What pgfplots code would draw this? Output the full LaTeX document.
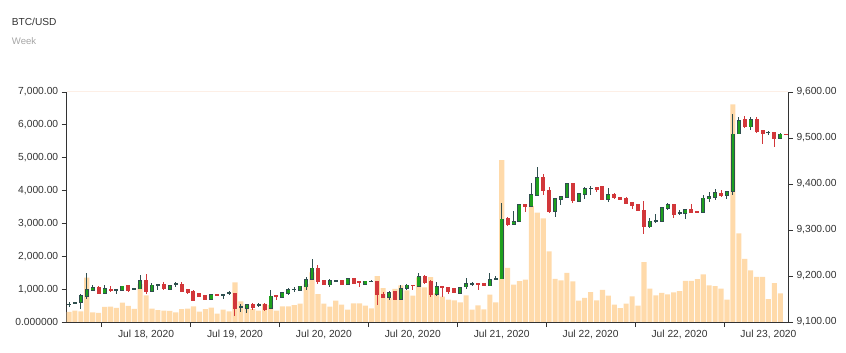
\documentclass[border=0pt]{standalone}
\usepackage{pgfplots}
\pgfplotsset{compat=1.18}
\usepackage{pgfplotstable}
\usepackage{fontspec}
\setmainfont{Liberation Sans}
\definecolor{volc}{HTML}{FFDAAA}
\definecolor{upc}{HTML}{1EA01E}
\definecolor{upo}{HTML}{2F4F4F}
\definecolor{dnc}{HTML}{D2373A}
\definecolor{axc}{HTML}{333333}
\definecolor{txt}{HTML}{333333}
\definecolor{toplc}{HTML}{FDEFE6}

\pgfplotstableread{
i O H L C
0 9138 9143 9133 9139
1 9141 9142.5 9140 9142
2 9142 9162 9129 9156.7
3 9156 9206.8 9150 9170.5
4 9169 9180 9167 9175
6 9163 9180.7 9161.8 9173
8 9170 9171.5 9161.8 9171
9 9169 9178.5 9168 9177.8
11 9172 9174 9171 9173
12 9172 9201.7 9171 9190
14 9167.6 9185.7 9164.7 9180
15 9180.2 9181 9170.5 9180.8
17 9172 9179 9171.5 9178.5
18 9181.5 9188 9176.3 9182.5
24 9149.4 9161.8 9147.2 9159.6
26 9159.6 9160.5 9150.9 9160
27 9163 9167.6 9158.9 9163.5
29 9132.5 9138.5 9121.8 9133
30 9129.8 9140 9119.6 9137.8
32 9137.5 9141 9133 9138
34 9130.5 9170.5 9129.8 9156
36 9153 9165 9152 9164
37 9163.2 9174 9158 9170.5
38 9171 9176.3 9166 9171.5
39 9169 9179 9168 9177.8
40 9176.3 9198 9169 9192.3
41 9192.3 9238 9191 9217
44 9180.7 9193.7 9175.6 9190.8
45 9189 9192.3 9186.5 9189.8
47 9181.4 9194 9181 9193.7
50 9182.8 9190 9182 9188.7
51 9188.2 9192.3 9186 9188.8
54 9153.8 9167.6 9147.2 9164
56 9150.1 9180.7 9149.4 9172.7
57 9172.7 9182.8 9170.5 9180
59 9177.8 9207.6 9177 9198.8
62 9160.3 9188 9156.7 9176.3
66 9163.2 9175.5 9162.5 9174.8
67 9176.3 9196.6 9172.7 9182.8
68 9183 9188 9178.5 9183.6
71 9178.5 9207.6 9178 9192.3
72 9193.3 9199.6 9190.8 9193.9
73 9193.7 9358 9193 9323.8
75 9312.9 9342 9312.5 9318.7
76 9318 9356.5 9317.5 9355.8
78 9352.2 9401.6 9351.5 9377.6
79 9376.1 9436.5 9375.5 9414.7
82 9340.5 9368.9 9327.5 9367.4
83 9366.7 9374 9354.3 9372.5
84 9371 9401 9370 9400.1
86 9363 9379 9362 9378.3
87 9378.3 9392.9 9367.4 9389.2
88 9390.3 9395.8 9376.1 9391
91 9366.7 9390.7 9361.6 9376.1
98 9307.1 9325.3 9303.5 9319.5
99 9320 9334 9314.4 9320.6
100 9319.5 9348.5 9319 9347.8
101 9346.3 9358 9343.4 9354.3
103 9337.3 9343.4 9333.3 9337.9
104 9336.2 9345.6 9323.1 9344.9
107 9339.1 9376.9 9338.4 9369.6
108 9368.2 9383.4 9361.6 9372.5
109 9371 9389.2 9365.2 9381.2
111 9376.1 9384 9366.7 9383.4
112 9384.9 9552 9376.1 9508.4
113 9509.1 9545.5 9508.5 9537.5
115 9524.4 9544.7 9516.4 9539.7
118 9512 9514.2 9506.2 9512.4
120 9499.7 9510.6 9497.5 9508.4
}\upt

\pgfplotstableread{
i O H L C
5 9174.8 9177.8 9161.8 9163
7 9171 9178 9164.7 9169
10 9178.5 9179 9164.7 9167.6
13 9190.8 9205.4 9160.3 9166
16 9182 9186.5 9169 9172
19 9182 9186.5 9165 9166
20 9170.5 9171 9161.8 9164.7
21 9166.9 9169 9145.8 9147.2
22 9161.8 9164 9154.5 9156
23 9158 9159 9147.2 9148.7
25 9160 9160.5 9158.5 9159
28 9161.8 9162.5 9113.8 9130.5
31 9138.5 9141.4 9125.4 9132.7
33 9139 9141.4 9124 9127.6
35 9156.5 9159.6 9147.2 9155
42 9215.5 9225 9183.6 9188.7
43 9190.8 9192 9180 9180.7
46 9190.8 9191.5 9181 9181.4
48 9193.7 9194 9184 9184.3
49 9187 9187.5 9176.3 9186
52 9188.7 9189.5 9136.3 9159.6
53 9159.6 9164.7 9152.3 9153.8
55 9165.4 9166 9149 9149.4
58 9180.4 9180.6 9170.5 9179.8
60 9198 9202.5 9183.6 9185.7
61 9187.2 9190.8 9154.5 9160.3
63 9176.5 9177 9154.5 9175.8
64 9174.8 9176.3 9161.8 9167.6
65 9171.9 9172.5 9163 9164
69 9183.6 9184 9170.5 9180.7
70 9182.8 9183.5 9179.5 9180
74 9325.3 9328.9 9309.3 9312.9
77 9355.8 9356.3 9338.4 9352.2
80 9414.7 9422 9376.1 9385.6
81 9385.6 9392.9 9337.6 9339.8
85 9400.1 9403 9358 9363.8
89 9392.9 9393.3 9382.7 9389.2
90 9393.6 9394 9366 9366.7
92 9376.1 9379.8 9367.4 9370.3
93 9371 9372 9366.8 9367.4
94 9367.4 9371 9356.5 9358
95 9359.4 9361.6 9346.4 9352.9
96 9354.3 9355 9341 9342
97 9343.4 9363 9290.4 9308.6
102 9354.3 9356.5 9326.7 9334.7
105 9344.9 9356.5 9338.7 9339.1
106 9340 9340.2 9339.3 9339.6
110 9379.8 9387 9372.5 9375.4
114 9539.7 9547 9521.5 9524.4
116 9539.7 9545.5 9510.6 9514.2
117 9516.4 9517 9487.3 9509.1
119 9512.8 9513.3 9481.5 9499.7
121 9508.6 9509 9507.6 9508
}\dnt

\pgfplotstableread{
i V
0 310
1 344
2 323
3 1350
4 295
5 278
6 460
7 470
8 430
9 590
10 487
11 400
12 1150
13 809
14 405
15 365
16 344
17 335
18 292
19 395
20 405
21 475
22 313
23 395
24 435
25 252
26 374
27 322
28 1205
29 630
30 526
31 390
32 344
33 550
34 516
35 344
36 475
37 475
38 516
39 556
40 1153
41 1507
42 850
43 556
44 465
45 647
46 526
47 374
48 566
49 566
50 495
51 415
52 1396
53 1031
54 728
55 1011
56 1113
57 961
58 799
59 1355
60 1052
61 1365
62 880
63 769
64 678
65 657
66 597
67 809
68 374
69 506
70 384
71 830
72 597
73 4924
74 1650
75 1134
76 1246
77 1286
78 3535
79 3330
80 3150
81 2152
82 1316
83 1270
84 1494
85 1235
86 647
87 738
88 910
89 657
90 981
91 799
92 526
93 425
94 556
95 779
96 496
97 1821
98 1012
99 809
100 890
101 840
102 900
103 941
104 1254
105 1254
106 1305
107 1446
108 1113
109 1092
110 1012
111 678
112 6625
113 2701
114 1922
115 1568
116 1376
117 1376
118 698
119 1183
120 870
}\volt

\begin{document}
\begin{tikzpicture}
\pgfplotsset{
  base/.style={
    scale only axis, width=721.3bp, height=230bp,
    at={(0,0)}, anchor=south west,
    xmin=-0.39, xmax=121.3,
    tick align=outside, major tick length=5bp,
    every tick/.style={axc, line width=0.8bp},
    axis line style={axc, line width=0.8bp},
    ticklabel style={font=\fontsize{10.3}{12}\selectfont, text=txt},
    /pgf/number format/assume math mode=true,
  },
  candle/.style n args={2}{draw=none, mark=none,
    error bars/.cd, y dir=both, y explicit, error mark=none,
    error bar style={solid, line width=#1, draw=#2}},
}
\begin{axis}[base,
  axis y line*=left, axis x line*=bottom,
  ymin=0, ymax=7000,
  ytick={0,1000,2000,3000,4000,5000,6000,7000},
  yticklabels={0.000000,{1,000.00},{2,000.00},{3,000.00},{4,000.00},{5,000.00},{6,000.00},{7,000.00}},
  xtick={5.5,20.5,35.5,50.5,65.5,80.5,95.5,110.5},
  xticklabels={{Jul 18, 2020},{Jul 19, 2020},{Jul 20, 2020},{Jul 20, 2020},{Jul 21, 2020},{Jul 22, 2020},{Jul 22, 2020},{Jul 23, 2020}},
  xticklabel style={xshift=44.45bp},
  ybar, bar width=5.1bp,
]
\addplot[ybar, fill=volc, draw=none] table[x=i, y=V]{\volt};
\draw[toplc, line width=1bp] (rel axis cs:0,1) -- (rel axis cs:1,1);
\coordinate (SW) at (rel axis cs:0,0);
\end{axis}

\begin{axis}[base,
  axis y line*=right, axis x line=none,
  ymin=9100, ymax=9600,
  ytick={9100,9200,9300,9400,9500,9600},
  yticklabels={{9,100.00},{9,200.00},{9,300.00},{9,400.00},{9,500.00},{9,600.00}},
]
% wicks
\addplot[candle={1bp}{upo}]
  table[x=i, y expr={(\thisrow{H}+\thisrow{L})/2}, y error expr={(\thisrow{H}-\thisrow{L})/2}]{\upt};
\addplot[candle={1bp}{dnc}]
  table[x=i, y expr={(\thisrow{H}+\thisrow{L})/2}, y error expr={(\thisrow{H}-\thisrow{L})/2}]{\dnt};
% bodies up
\addplot[candle={4bp}{upo}]
  table[x=i, y expr={(\thisrow{O}+\thisrow{C})/2}, y error expr={(\thisrow{C}-\thisrow{O})/2+1.2}]{\upt};
\addplot[candle={2.5bp}{upc}]
  table[x=i, y expr={(\thisrow{O}+\thisrow{C})/2}, y error expr={max((\thisrow{C}-\thisrow{O})/2-0.5,0)}]{\upt};
% bodies down
\addplot[candle={4bp}{dnc}]
  table[x=i, y expr={(\thisrow{O}+\thisrow{C})/2}, y error expr={(\thisrow{O}-\thisrow{C})/2+1.2}]{\dnt};
\end{axis}

\path (SW) ++(-55bp,296.3bp) node[anchor=base west, inner sep=0pt, font=\fontsize{10.2}{12}\selectfont, text=txt] {BTC/USD};
\path (SW) ++(-55bp,277bp) node[anchor=base west, inner sep=0pt, font=\fontsize{9.6}{12}\selectfont, text=black!35] {Week};

\pgfresetboundingbox
\path[use as bounding box] (SW) ++(-66.7bp,-31bp) rectangle ++(846bp,353bp);
\end{tikzpicture}
\end{document}
